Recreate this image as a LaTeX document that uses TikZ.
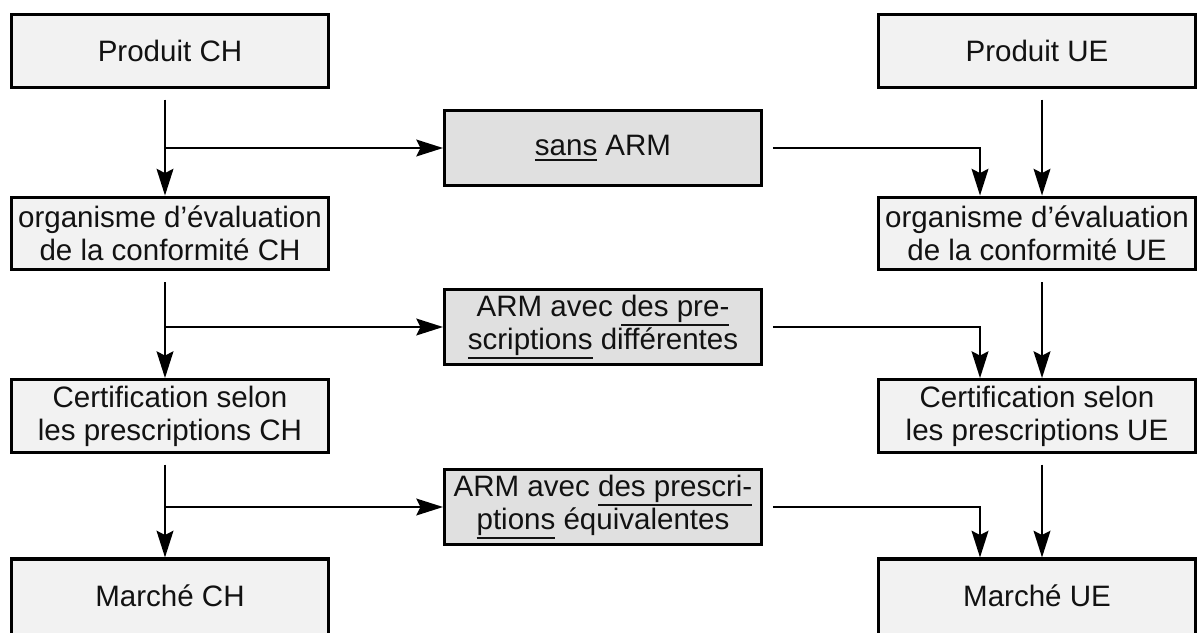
\documentclass[tikz,border=0pt]{standalone}
\usepackage{fontspec}
\setmainfont{Liberation Sans}
\usetikzlibrary{arrows.meta}
\newcommand\ul[2][6.4pt]{\setbox0\hbox{#2}\rlap{\rule[-#1]{\wd0}{1.3pt}}\box0{}}
\begin{document}
\begin{tikzpicture}[x=0.025cm, y=-0.025cm, >={Stealth[length=19pt,width=12pt,inset=3pt]},
    outer node/.style={draw, line width=2.2pt, fill=black!5, minimum width=7.92cm, minimum height=1.82cm, align=center, inner sep=0pt},
    arm node/.style={draw, line width=2.2pt, fill=black!12, minimum width=7.92cm, minimum height=1.86cm, align=center, inner sep=0pt},
    market node/.style={outer node, minimum height=2.1cm, text depth=7pt},
    flow/.style={->, line width=1.3pt}]
        \tikzstyle{every node}=[font=\fontsize{21}{23.5}\selectfont, text=black!93]
        \useasboundingbox (0,0) rectangle (1200,632);

          \node[outer node] (pch) at (170,51) {Produit CH};
          \node[outer node] (oech) at (170,233.5) {organisme d’évaluation\\de la conformité CH};
          \node[outer node] (cch) at (170,416) {Certification selon\\les prescriptions CH};
          \node[market node] (mch) at (170,601) {Marché CH};

          \node[outer node] (pue) at (1037,51) {Produit UE};
          \node[outer node] (oeue) at (1037,233.5) {organisme d’évaluation\\de la conformité UE};
          \node[outer node] (cue) at (1037,416) {Certification selon\\les prescriptions UE};
          \node[market node] (mue) at (1037,601) {Marché UE};

          \node[arm node] (sans) at (603,148) {\ul[4.2pt]{sans} ARM};
          \node[arm node] (diff) at (603,327) {ARM avec \ul{des pre-}\\\ul{scriptions} différentes};
          \node[arm node] (equi) at (603,507) {ARM avec \ul{des prescri-}\\\ul{ptions} équivalentes};

          \coordinate (lx) at (165,0);
          \coordinate (rx) at (1042,0);
          \coordinate (bx) at (980,0);

          % Swiss side
          \draw[flow, shorten <=7.6pt] (pch.south -| lx) -- (oech.north -| lx);
          \draw[flow, shorten <=7.6pt] (oech.south -| lx) -- (cch.north -| lx);
          \draw[flow, shorten <=7.6pt] (cch.south -| lx) -- (mch.north -| lx);
          \draw[flow] (lx |- sans) -- (sans);
          \draw[flow] (lx |- diff) -- (diff);
          \draw[flow] (lx |- equi) -- (equi);

          % EU side
          \draw[flow, shorten <=7.6pt] (pue.south -| rx) -- (oeue.north -| rx);
          \draw[flow, shorten <=7.6pt] (oeue.south -| rx) -- (cue.north -| rx);
          \draw[flow, shorten <=7.6pt] (cue.south -| rx) -- (mue.north -| rx);
          \draw[flow, shorten <=7.1pt] (sans) -| (oeue.north -| bx);
          \draw[flow, shorten <=7.1pt] (diff) -| (cue.north -| bx);
          \draw[flow, shorten <=7.1pt] (equi) -| (mue.north -| bx);

\end{tikzpicture}
\end{document}
